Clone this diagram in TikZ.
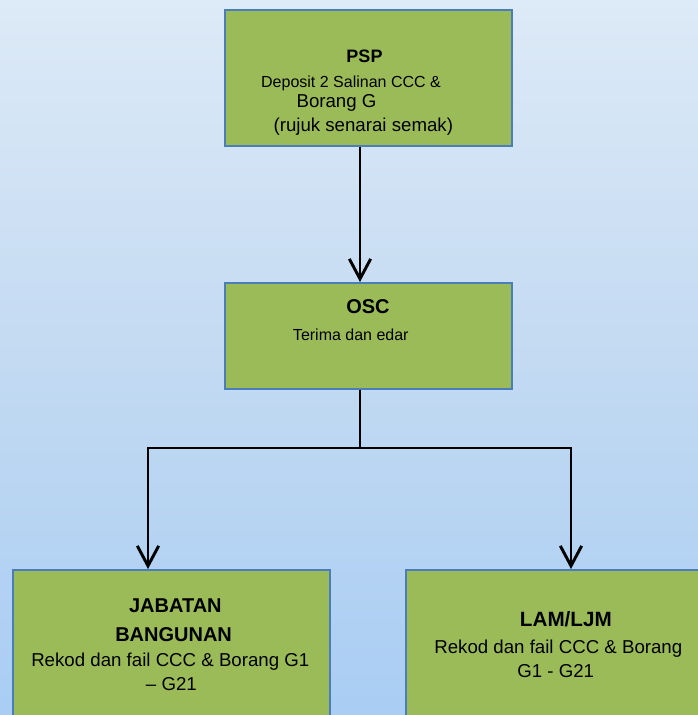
\documentclass[tikz,border=0pt]{standalone}
\usepackage{fontspec}
\setmainfont{Liberation Sans}
\usetikzlibrary{arrows.meta}

\definecolor{bgtop}{HTML}{DDEAF7}
\definecolor{bgmid}{HTML}{C3DAF2}
\definecolor{bgbot}{HTML}{A9CDF3}
\definecolor{boxfill}{HTML}{9BBB59}
\definecolor{boxline}{HTML}{4A7EBB}

\tikzset{every picture/.style={line width=0.75pt}}
\tikzset{
  greenbox/.style={draw=boxline, fill=boxfill, line width=1.2pt, inner sep=0pt},
  flowline/.style={line width=2.2pt, black},
  flowarrow/.style={flowline, -{Straight Barb[length=15pt, width=16pt, line width=2.2pt]}},
  headtxt/.style={font=\fontsize{15}{17}\selectfont\bfseries},
  smalltxt/.style={font=\fontsize{12}{14}\selectfont},
  bodytxt/.style={font=\fontsize{14}{16}\selectfont}
}

\begin{document}
\begin{tikzpicture}[x=0.75pt,y=0.75pt,yscale=-1,xscale=1]
		\path[use as bounding box, clip] (0,0) rectangle (698,715);

		%Shape: Background
		\shade[top color=bgtop, bottom color=bgbot, middle color=bgmid] (0,0) rectangle (698,715);

		%Shape: Rectangle [id:psp]
		\draw (224,9) node [greenbox, anchor=north west, minimum width=215.25pt, minimum height=102pt] (psp) {};
		%Shape: Rectangle [id:osc]
		\draw (224,282) node [greenbox, anchor=north west, minimum width=215.25pt, minimum height=79.5pt] (osc) {};
		%Shape: Rectangle [id:jb]
		\draw (12,569) node [greenbox, anchor=north west, minimum width=237.75pt, minimum height=127.5pt] (jb) {};
		%Shape: Rectangle [id:lam]
		\draw (405,569) node [greenbox, anchor=north west, minimum width=240pt, minimum height=127.5pt] (lam) {};

		%Straight Lines
		\coordinate (split) at (360,448);
		\draw [flowarrow] (psp.south -| split) -- (osc.north -| split);
		\draw [flowline] (osc.south -| split) -- (split);
		\draw [flowarrow] (split) -| (148,569);
		\draw [flowarrow] (split) -| (571,569);

		% Text Node
		\draw (364.5,62) node [anchor=base][inner sep=0.75pt] [headtxt, font=\fontsize{13.5}{16}\selectfont\bfseries] (psphead) {PSP};
		% Text Node
		\draw (351,87.3) node [anchor=base][inner sep=0.75pt] [smalltxt] (pspline1) {Deposit 2 Salinan CCC \&};
		% Text Node
		\draw (336.5,107.3) node [anchor=base][inner sep=0.75pt] [bodytxt] (pspline2) {Borang G};
		% Text Node
		\draw (363.3,131.7) node [anchor=base][inner sep=0.75pt] [bodytxt] (pspline3) {(rujuk senarai semak)};
		% Text Node
		\draw (368,313.3) node [anchor=base][inner sep=0.75pt] [headtxt] (oschead) {OSC};
		% Text Node
		\draw (350.8,340.7) node [anchor=base][inner sep=0.75pt] [smalltxt] (oscline1) {Terima dan edar};
		% Text Node
		\draw (175.4,612.3) node [anchor=base][inner sep=0.75pt] [headtxt] (jbhead1) {JABATAN};
		% Text Node
		\draw (173.6,641.7) node [anchor=base][inner sep=0.75pt] [headtxt] (jbhead2) {BANGUNAN};
		% Text Node
		\draw (170.3,666.7) node [anchor=base][inner sep=0.75pt] [bodytxt] (jbline1) {Rekod dan fail CCC \& Borang G1};
		% Text Node
		\draw (171.4,690) node [anchor=base][inner sep=0.75pt] [bodytxt] (jbline2) {– G21};
		% Text Node
		\draw (565.9,626) node [anchor=base][inner sep=0.75pt] [headtxt, font=\fontsize{15.5}{17}\selectfont\bfseries] (lamhead) {LAM/LJM};
		% Text Node
		\draw (558.3,653.3) node [anchor=base][inner sep=0.75pt] [bodytxt] (lamline1) {Rekod dan fail CCC \& Borang};
		% Text Node
		\draw (555.7,677.3) node [anchor=base][inner sep=0.75pt] [bodytxt] (lamline2) {G1 - G21};

\end{tikzpicture}
\end{document}
